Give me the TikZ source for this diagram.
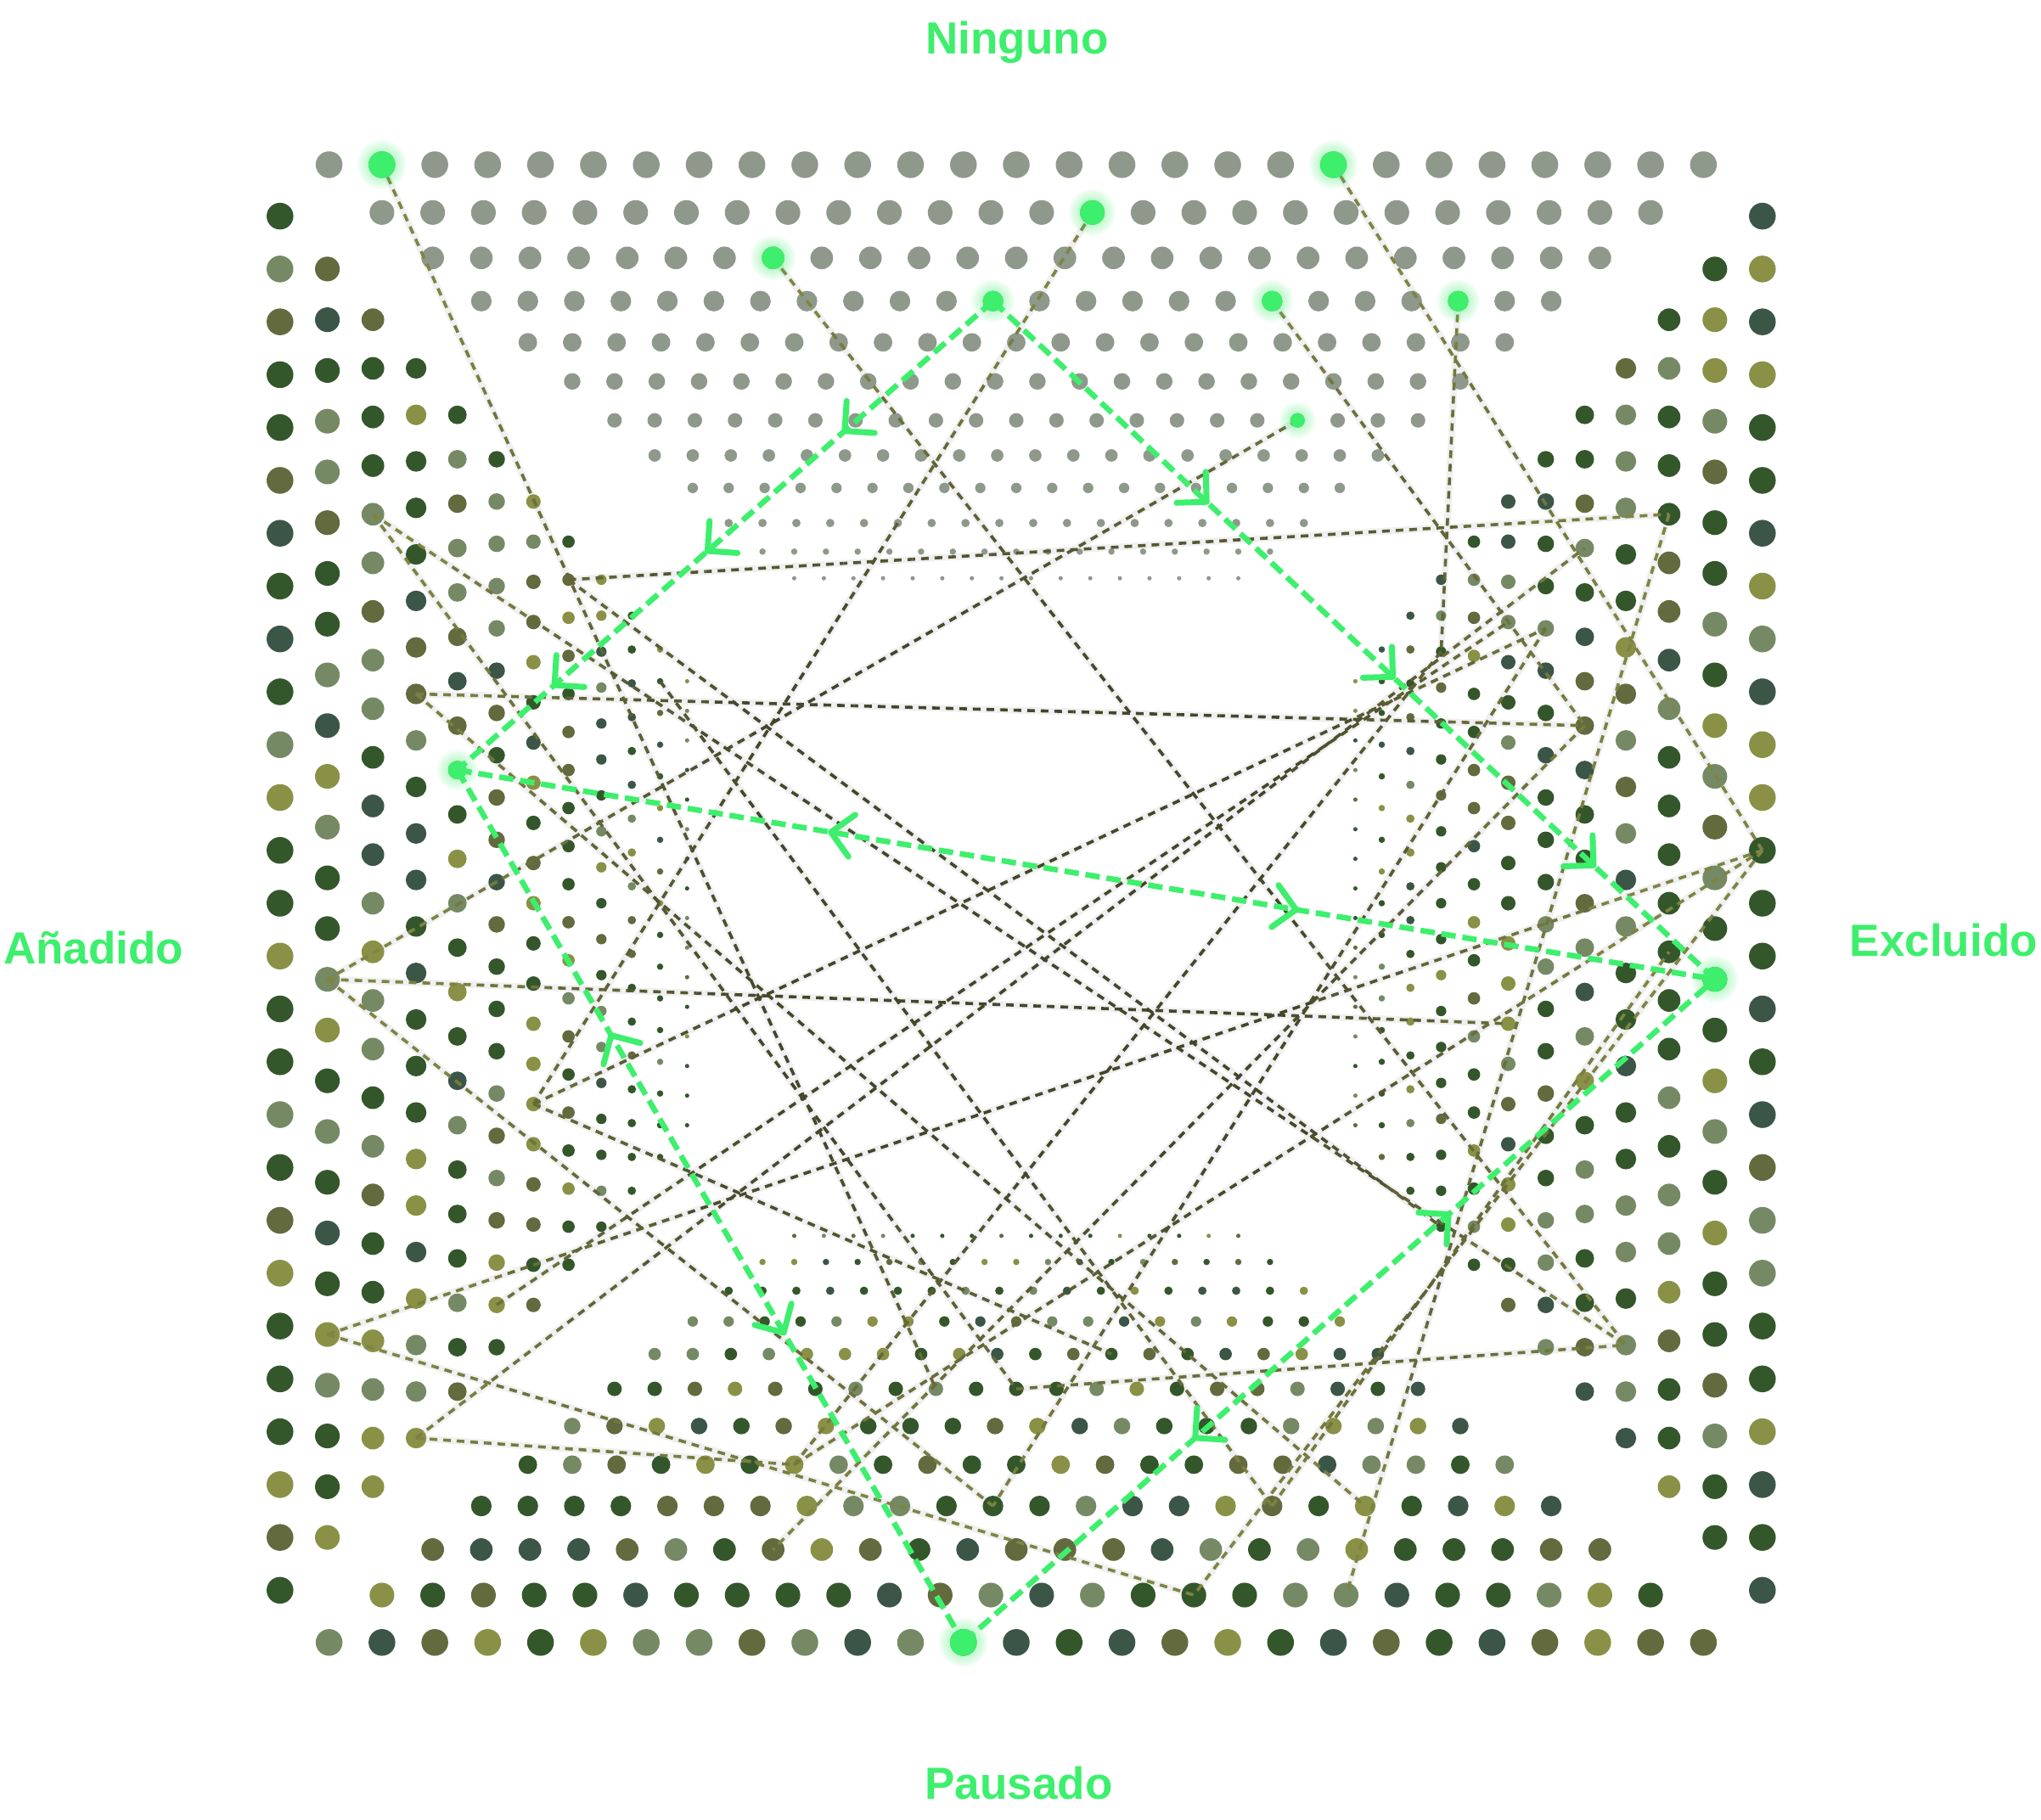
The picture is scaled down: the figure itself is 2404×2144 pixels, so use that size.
\documentclass[tikz,border=0pt]{standalone}
\usepackage{fontspec}
\setmainfont{Liberation Sans}
\usetikzlibrary{decorations.markings}
\definecolor{gTop}{HTML}{8E998B}
\definecolor{cA}{HTML}{33572A}
\definecolor{cB}{HTML}{758A64}
\definecolor{cC}{HTML}{636A3E}
\definecolor{cD}{HTML}{8A9146}
\definecolor{cE}{HTML}{3B5647}
\definecolor{olL}{HTML}{7E8442}
\definecolor{olD}{HTML}{45452B}
\definecolor{hl}{HTML}{3DEF6C}
\def\pick#1{\ifcase#1 cA\or cA\or cA\or cA\or cA\or cA\or cA\or cB\or cB\or cB\or cB\or cC\or cC\or cC\or cD\or cD\or cD\or cE\or cE\or cE\fi}
\def\XL{{329.8,385.6,439.2,490.1,538.7,585.0,628.3,669.6,708.3,744.2,777.5,809.3}}
\def\XR{{2075.8,2019.8,1965.9,1915.0,1866.6,1820.7,1776.5,1736.1,1697.4,1661.2,1627.5,1596.4}}
\def\YT{{194.0,250.3,303.8,354.7,403.3,449.3,495.2,536.5,574.8,616.1,649.8,681.2}}
\def\YB{{1934.8,1879.0,1825.4,1774.1,1725.4,1679.9,1636.1,1595.1,1556.7,1520.5,1486.6,1455.8}}
% ring dot positions as named coordinates
\newcommand\ptT[3]{\pgfmathsetmacro\tx{1197+(#3-(26-#2)/2)*(62.26-2.49*#2)}\pgfmathsetmacro\ty{\YT[#2]}\coordinate (#1) at (\tx,\ty);}
\newcommand\ptB[3]{\pgfmathsetmacro\tx{1197+(#3-(26-#2)/2)*(62.26-2.49*#2)}\pgfmathsetmacro\ty{\YB[#2]}\coordinate (#1) at (\tx,\ty);}
\newcommand\ptL[3]{\pgfmathsetmacro\ty{1064+(#3-(26-#2)/2)*(62.26-2.49*#2)}\pgfmathsetmacro\tx{\XL[#2]}\coordinate (#1) at (\tx,\ty);}
\newcommand\ptR[3]{\pgfmathsetmacro\ty{1064+(#3-(26-#2)/2)*(62.26-2.49*#2)}\pgfmathsetmacro\tx{\XR[#2]}\coordinate (#1) at (\tx,\ty);}
% dotted connector with depth shading
\newcommand\oline[2]{%
  \path (#1); \pgfgetlastxy{\oAx}{\oAy}%
  \path (#2); \pgfgetlastxy{\oBx}{\oBy}%
  \pgfmathsetmacro\oDx{(\oBx-\oAx)/16}%
  \pgfmathsetmacro\oDy{(\oBy-\oAy)/16}%
  \pgfmathsetmacro\oLen{sqrt(\oDx*\oDx+\oDy*\oDy)}%
  \foreach \j in {0,...,15}{%
    \pgfmathsetmacro\oSx{\oAx+\oDx*\j}%
    \pgfmathsetmacro\oSy{\oAy+\oDy*\j}%
    \pgfmathsetmacro\oEx{\oAx+\oDx*(\j+1)}%
    \pgfmathsetmacro\oEy{\oAy+\oDy*(\j+1)}%
    \pgfmathsetmacro\oCh{max(abs((\oSx+\oEx)/2-1200),abs((\oSy+\oEy)/2+1064))}%
    \pgfmathtruncatemacro\pct{min(100,max(0,(\oCh-300)/4))}%
    \pgfmathsetmacro\oPh{mod(\oLen*\j,16)}%
    \draw[oln, color=olL!\pct!olD, dash phase=\oPh pt] (\oSx pt,\oSy pt) -- (\oEx pt,\oEy pt);
  }}
\newcommand\oshadow[2]{\draw[olshadow] (#1) -- (#2);}
\newcommand\glowdot[2]{%
  \foreach \g in {1,...,6}{\fill[hl, opacity=0.055] (#1) circle (#2+2.2*\g);}
  \fill[hl] (#1) circle (#2);}
\newcommand\LINES{%
  \LN{T0-1}{B6-8}
  \LN{T0-19}{R0-12}
  \LN{T1-14}{L6-15}
  \LN{T2-7}{R3-21}
  \LN{T3-17}{R4-7}
  \LN{T3-21}{R8-2}
  \LN{T6-17}{L1-14}
  \LN{L7-1}{R2-4}
  \LN{L7-1}{R8-18}
  \LN{R2-4}{B1-19}
  \LN{L3-7}{R4-7}
  \LN{L2-4}{R3-21}
  \LN{L2-4}{B6-10}
  \LN{L1-14}{R6-13}
  \LN{L1-21}{R0-12}
  \LN{L1-21}{B1-16}
  \LN{L3-23}{R4-3}
  \LN{L3-23}{B4-6}
  \LN{B6-10}{R3-21}
  \LN{L1-14}{B3-11}
  \LN{B4-6}{R0-12}
  \LN{R0-12}{B1-16}
  \LN{R8-2}{B4-6}
  \LN{R4-7}{B2-7}
  \LN{L3-7}{B3-19}
  \LN{L6-15}{B7-12}
  \LN{L6-15}{R5-4}
  \LN{L5-20}{R6-3}
  \LN{R5-4}{B3-11}
  \LN{L10-1}{B3-17}
  \LN{B3-17}{R2-13}}
\tikzset{
  oln/.style={line width=3.6pt, dash pattern=on 9pt off 7pt},
  olshadow/.style={line width=8pt, black!6, shift={(2pt,-3pt)}},
  gline/.style={hl, line width=6.5pt, dash pattern=on 17pt off 8pt},
  chev/.style={postaction={decorate, decoration={markings, mark=at position #1 with {\draw[hl, solid, line width=7pt, line cap=round, line join=round] (-25pt,25pt) -- (0pt,0pt) -- (-25pt,-25pt);}}}},
  lbl/.style={font=\fontsize{53}{60}\selectfont\bfseries, text=hl, inner sep=0pt}
}
\begin{document}
\begin{tikzpicture}[x=1pt,y=-1pt]
\fill[white] (0,0) rectangle (2404,2144);
\useasboundingbox (0,0) rectangle (2404,2144);
% named end points
\ptT{T0-1}{0}{1}\ptT{T0-19}{0}{19}\ptT{T1-14}{1}{14}\ptT{T2-7}{2}{7}
\ptT{T3-11}{3}{11}\ptT{T3-17}{3}{17}\ptT{T3-21}{3}{21}\ptT{T6-17}{6}{17}
\ptL{L4-8}{4}{8}\ptR{R1-14}{1}{14}\ptB{B0-12}{0}{12}
\ptB{B6-8}{6}{8}\ptR{R0-12}{0}{12}\ptR{R3-21}{3}{21}
\ptR{R4-7}{4}{7}\ptR{R8-2}{8}{2}\ptL{L1-14}{1}{14}\ptL{L7-1}{7}{1}
\ptR{R2-4}{2}{4}\ptB{B1-19}{1}{19}\ptL{L3-7}{3}{7}\ptL{L2-4}{2}{4}
\ptB{B6-10}{6}{10}\ptR{R6-13}{6}{13}\ptL{L1-21}{1}{21}\ptB{B1-16}{1}{16}
\ptL{L3-23}{3}{23}\ptR{R4-3}{4}{3}\ptB{B4-6}{4}{6}\ptB{B3-11}{3}{11}
\ptB{B2-7}{2}{7}\ptR{R8-18}{8}{18}\ptR{R5-4}{5}{4}\ptL{L5-20}{5}{20}
\ptR{R6-3}{6}{3}\ptB{B3-17}{3}{17}\ptR{R2-13}{2}{13}
\ptB{B3-19}{3}{19}\ptL{L6-15}{6}{15}\ptB{B7-12}{7}{12}\ptL{L10-1}{10}{1}
% shadows of connectors
\let\LN\oshadow \LINES
% tunnel of dots
\pgfmathsetseed{7}
\foreach \k in {0,...,11}{
  \pgfmathtruncatemacro\nn{26-\k}
  \pgfmathsetmacro\ss{62.26-2.49*\k}
  \pgfmathsetmacro\rr{15.75-1.2*\k}
  \pgfmathsetmacro\yt{\YT[\k]}
  \pgfmathsetmacro\yb{\YB[\k]}
  \pgfmathsetmacro\xl{\XL[\k]}
  \pgfmathsetmacro\xr{\XR[\k]}
  \foreach \i in {0,...,\nn}{
    \pgfmathsetmacro\oo{(\i-\nn/2)*\ss}
    \fill[gTop] (1197+\oo,\yt) circle (\rr);
    \pgfmathtruncatemacro\cc{random(0,19)}\edef\cn{\pick{\cc}}
    \fill[\cn] (1197+\oo,\yb) circle (\rr);
    \pgfmathtruncatemacro\cc{random(0,19)}\edef\cn{\pick{\cc}}
    \fill[\cn] (\xl,1064+\oo) circle (\rr);
    \pgfmathtruncatemacro\cc{random(0,19)}\edef\cn{\pick{\cc}}
    \fill[\cn] (\xr,1064+\oo) circle (\rr);
  }
}
% dotted connectors
\let\LN\oline \LINES
% highlighted transitions
\draw[gline, chev=0.277, chev=0.533, chev=0.819] (T3-11) -- (L4-8);
\draw[gline, chev=0.296, chev=0.554, chev=0.832] (T3-11) -- (R1-14);
\draw[gline, chev=0.667] (L4-8) -- (R1-14);
\path[chev=0.703] (R1-14) -- (L4-8);
\draw[gline, chev=0.645] (L4-8) -- (B0-12);
\path[chev=0.696] (B0-12) -- (L4-8);
\draw[gline, chev=0.646] (B0-12) -- (R1-14);
\path[chev=0.692] (R1-14) -- (B0-12);
% glowing dots
\glowdot{T0-1}{15.75}\glowdot{T0-19}{15.75}\glowdot{T1-14}{14.55}
\glowdot{T2-7}{13.35}\glowdot{T3-11}{12.15}\glowdot{T3-17}{12.15}
\glowdot{T3-21}{12.15}\glowdot{T6-17}{8.55}\glowdot{L4-8}{10.95}
\glowdot{R1-14}{14.55}\glowdot{B0-12}{15.75}
% labels
\node[lbl, anchor=base] (ninguno) at (1198,63) {Ninguno};
\node[lbl, anchor=base] (pausado) at (1200,2119) {Pausado};
\node[lbl, anchor=base west] (anadido) at (4,1135) {Añadido};
\node[lbl, anchor=base east] (excluido) at (2400,1126) {Excluido};
\end{tikzpicture}
\end{document}
